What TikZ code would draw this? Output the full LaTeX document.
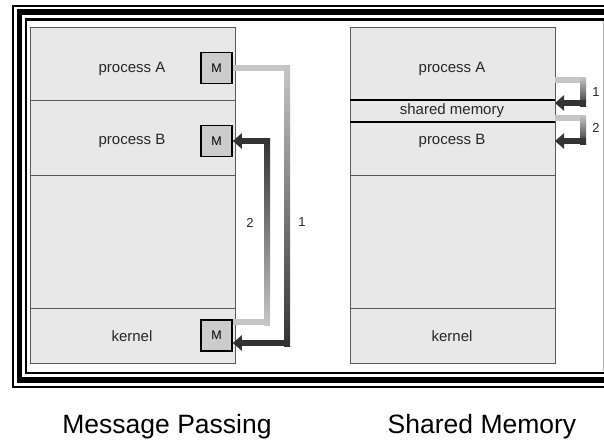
\documentclass[tikz,border=0pt]{standalone}
\usepackage{fontspec}
\setmainfont{Liberation Sans}
\usetikzlibrary{positioning,arrows.meta}

\begin{document}
\begin{tikzpicture}[x=1pt, y=-1pt,
    sec/.style = {draw=gray!70!black, fill=gray!18, line width=0.8pt, minimum width=205pt, inner sep=0pt, outer sep=0pt},
    msg/.style = {draw, fill=gray!40, line width=1.6pt, minimum size=31pt, inner sep=0pt, font=\fontsize{12.5}{14}\selectfont},
    txt/.style = {font=\fontsize{15}{17}\selectfont, text=black!85},
    num/.style = {font=\fontsize{13}{15}\selectfont, text=black!85},
    caption/.style = {font=\fontsize{26.5}{31}\selectfont},
    lite/.style = {line width=6pt, draw=gray!45},
    dark/.style = {line width=6pt, draw=gray!40!black, -{Triangle[width=15pt,length=9pt]}}]
  \useasboundingbox (0,0) rectangle (604,442);
  \clip (0,0) rectangle (604,442);
  \fill[white] (0,0) rectangle (604,442);

  % triple frame
  \draw[line width=2pt] (13,6) rectangle (700,387);
  \draw[line width=5.5pt] (19.5,12) rectangle (700,380);
  \draw[line width=2.5pt] (26,19.5) rectangle (700,373);
  \draw[gray!60] (603,21) -- (603,371);

  % message passing
  \node[sec, minimum height=73pt] (lA) at (132.5,63.5) {};
  \node[sec, minimum height=75pt, below=0pt of lA] (lB) {};
  \node[sec, minimum height=133pt, below=0pt of lB] (lF) {};
  \node[sec, minimum height=55pt, below=0pt of lF] (lK) {};
  \node[txt] (tA) at (132,69) {process A};
  \node[txt] (tB) at (132,141) {process B};
  \node[txt] (tK) at (132,336) {kernel};
  \node[msg] (mA) at (216.5,68) {M};
  \node[msg] (mB) at (216.5,141) {M};
  \node[msg] (mK) at (216.5,335.5) {M};

  \coordinate (c1t) at (287,68);
  \coordinate (c1b) at (287,343);
  \coordinate (c2t) at (267,141);
  \coordinate (c2b) at (267,322);
  \draw[lite] (mA.east) -- ([xshift=3pt]c1t);
  \shade[top color=gray!45, bottom color=gray!40!black] ([xshift=-3pt,yshift=3pt]c1t) rectangle ([xshift=3pt,yshift=-3pt]c1b);
  \draw[dark] ([xshift=3pt]c1b) -- (mK.east |- c1b);
  \draw[lite] (mK.east |- c2b) -- ([xshift=3pt]c2b);
  \shade[top color=gray!40!black, bottom color=gray!45] ([xshift=-3pt,yshift=3pt]c2t) rectangle ([xshift=3pt,yshift=-3pt]c2b);
  \draw[dark] ([xshift=3pt]c2t) -- (mB.east);
  \node[num] (n2) at (250,223) {2};
  \node[num] (n1) at (302,222) {1};

  % shared memory
  \node[sec, minimum height=73pt] (rA) at (452.5,63.5) {};
  \node[sec, minimum height=22pt, below=0pt of rA] (rS) {};
  \node[sec, minimum height=53pt, below=0pt of rS] (rB) {};
  \node[sec, minimum height=133pt, below=0pt of rB] (rF) {};
  \node[sec, minimum height=55pt, below=0pt of rF] (rK) {};
  \draw[line width=2.2pt] (rS.north west) -- (rS.north east);
  \draw[line width=2.2pt] (rS.south west) -- (rS.south east);
  \node[txt] (sA) at (452,69) {process A};
  \node[txt] (sS) at (452,111) {shared memory};
  \node[txt] (sB) at (452,141) {process B};
  \node[txt] (sK) at (452,336) {kernel};

  \coordinate (r1t) at (583,80);
  \coordinate (r1b) at (583,103);
  \coordinate (r2t) at (583,118);
  \coordinate (r2b) at (583,141);
  \draw[lite] (rA.east |- r1t) -- ([xshift=3pt]r1t);
  \shade[top color=gray!45, bottom color=gray!40!black] ([xshift=-3pt,yshift=3pt]r1t) rectangle ([xshift=3pt,yshift=-3pt]r1b);
  \draw[dark] ([xshift=3pt]r1b) -- (rS.east |- r1b);
  \draw[lite] (rS.east |- r2t) -- ([xshift=3pt]r2t);
  \shade[top color=gray!45, bottom color=gray!40!black] ([xshift=-3pt,yshift=3pt]r2t) rectangle ([xshift=3pt,yshift=-3pt]r2b);
  \draw[dark] ([xshift=3pt]r2b) -- (rB.east |- r2b);
  \node[num] (s1) at (596,92) {1};
  \node[num] (s2) at (596,128) {2};

  \node[caption] (cL) at (167,427) {Message Passing};
  \node[caption] (cR) at (482,427) {Shared Memory};
\end{tikzpicture}
\end{document}
